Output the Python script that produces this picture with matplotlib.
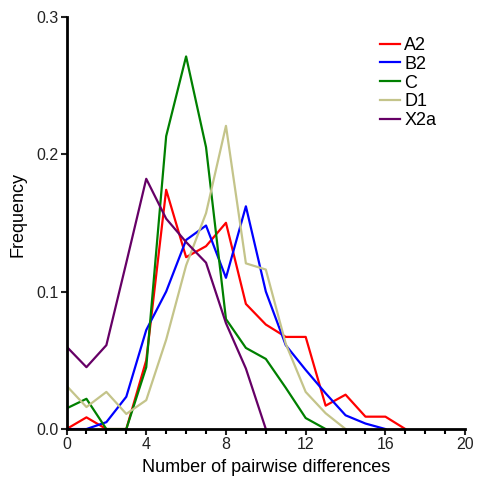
import matplotlib
matplotlib.use("Agg")
import matplotlib.pyplot as plt
from matplotlib.ticker import MultipleLocator, FormatStrFormatter

plt.rcParams["font.family"] = ["Liberation Sans", "DejaVu Sans"]

# Mismatch distributions per haplogroup
x = list(range(0, 18))
a2 = [0.0, 0.0085, 0.0, 0.0, 0.050, 0.174, 0.125, 0.133, 0.150, 0.091,
      0.076, 0.067, 0.067, 0.017, 0.025, 0.009, 0.009, 0.0]
b2 = [0.0, 0.0, 0.005, 0.0235, 0.072, 0.100, 0.1375, 0.148, 0.110, 0.162,
      0.100, 0.061, 0.043, 0.026, 0.010, 0.004, 0.0]
c = [0.015, 0.022, 0.0, 0.0, 0.045, 0.213, 0.271, 0.205, 0.080, 0.059,
     0.051, 0.030, 0.008, 0.0]
d1 = [0.0315, 0.016, 0.027, 0.011, 0.021, 0.065, 0.119, 0.157, 0.2205, 0.1205,
      0.116, 0.062, 0.027, 0.0115, 0.0]
x2a = [0.060, 0.045, 0.061, 0.121, 0.182, 0.153, 0.136, 0.121, 0.077, 0.044, 0.0]

series = [
    ("A2", a2, "#ff0000"),
    ("B2", b2, "#0000ff"),
    ("C", c, "#008000"),
    ("D1", d1, "#c4c48a"),
    ("X2a", x2a, "#660066"),
]

fig = plt.figure(figsize=(4.82, 4.87), dpi=100)
ax = fig.add_axes([0.138, 0.119, 0.827, 0.847])

for name, vals, col in series:
    ax.plot(x[:len(vals)], vals, color=col, lw=1.6, label=name)

ax.set_xlim(0, 20)
ax.set_ylim(0, 0.3)
ax.xaxis.set_major_locator(MultipleLocator(4))
ax.xaxis.set_minor_locator(MultipleLocator(1))
ax.yaxis.set_major_locator(MultipleLocator(0.1))
ax.yaxis.set_major_formatter(FormatStrFormatter("%.1f"))

for side in ("top", "right"):
    ax.spines[side].set_visible(False)
for side in ("left", "bottom"):
    ax.spines[side].set_linewidth(2)

ax.tick_params(which="major", direction="out", length=4, width=1.5, pad=2,
               labelsize=11.5, colors="#222222")
ax.tick_params(which="minor", direction="out", length=3.5, width=1.5)

ax.set_xlabel("Number of pairwise differences", fontsize=13, labelpad=5)
ax.set_ylabel("Frequency", fontsize=13)
ax.yaxis.set_label_coords(-0.10, 0.52)

ax.legend(loc="upper left", bbox_to_anchor=(0.745, 0.99), frameon=False,
          fontsize=13, handlelength=1.15, handletextpad=0.2, labelspacing=0.1)

fig.savefig("out.png", dpi=100)
